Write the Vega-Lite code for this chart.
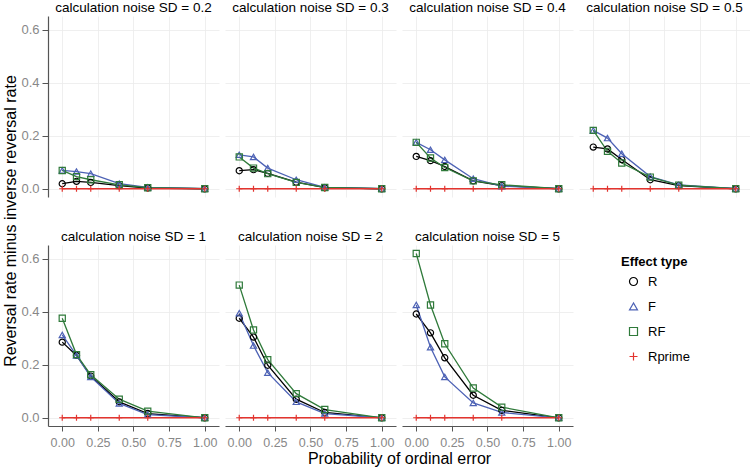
{
  "$schema": "https://vega.github.io/schema/vega-lite/v6.json",
  "padding": {"left": 2, "top": 0, "right": 2, "bottom": 0},
  "bounds": "flush",
  "columns": 4,
  "spacing": {"row": 48, "column": 6},
  "config": {
    "font": "Liberation Sans",
    "view": {"stroke": null},
    "title": {"fontSize": 13.5, "fontWeight": "normal", "color": "#000000", "offset": 2, "anchor": "middle"},
    "axis": {"gridColor": "#ebebeb", "gridWidth": 0.8, "domainColor": "#555555", "domainWidth": 1.2, "tickColor": "#555555", "labelColor": "#888888"},
    "axisX": {"tickSize": 5, "labelPadding": 5, "labelFontSize": 12.5},
    "axisY": {"tickSize": 6, "labelPadding": 3, "labelFontSize": 13},
    "legend": {"orient": "none", "legendX": 573, "legendY": 240, "titleFontSize": 13, "titleFontWeight": "bold", "labelFontSize": 13, "titleColor": "#000000", "labelColor": "#000000", "rowPadding": 11, "symbolSize": 64, "symbolStrokeWidth": 1.2, "symbolOffset": 6, "labelOffset": 8, "titlePadding": 6}
  },
  "data": {"values": [
    {"sd":0.2,"t":"R","p":0,"v":0.019},{"sd":0.2,"t":"R","p":0.1,"v":0.028},{"sd":0.2,"t":"R","p":0.2,"v":0.024},{"sd":0.2,"t":"R","p":0.4,"v":0.012},{"sd":0.2,"t":"R","p":0.6,"v":0.003},{"sd":0.2,"t":"R","p":1,"v":0},
    {"sd":0.2,"t":"F","p":0,"v":0.069},{"sd":0.2,"t":"F","p":0.1,"v":0.065},{"sd":0.2,"t":"F","p":0.2,"v":0.057},{"sd":0.2,"t":"F","p":0.4,"v":0.019},{"sd":0.2,"t":"F","p":0.6,"v":0.005},{"sd":0.2,"t":"F","p":1,"v":0},
    {"sd":0.2,"t":"RF","p":0,"v":0.069},{"sd":0.2,"t":"RF","p":0.1,"v":0.046},{"sd":0.2,"t":"RF","p":0.2,"v":0.034},{"sd":0.2,"t":"RF","p":0.4,"v":0.015},{"sd":0.2,"t":"RF","p":0.6,"v":0.004},{"sd":0.2,"t":"RF","p":1,"v":0},
    {"sd":0.2,"t":"Rprime","p":0,"v":0},{"sd":0.2,"t":"Rprime","p":0.1,"v":0},{"sd":0.2,"t":"Rprime","p":0.2,"v":0},{"sd":0.2,"t":"Rprime","p":0.4,"v":0},{"sd":0.2,"t":"Rprime","p":0.6,"v":0},{"sd":0.2,"t":"Rprime","p":1,"v":0},
    {"sd":0.3,"t":"R","p":0,"v":0.068},{"sd":0.3,"t":"R","p":0.1,"v":0.072},{"sd":0.3,"t":"R","p":0.2,"v":0.058},{"sd":0.3,"t":"R","p":0.4,"v":0.025},{"sd":0.3,"t":"R","p":0.6,"v":0.004},{"sd":0.3,"t":"R","p":1,"v":0},
    {"sd":0.3,"t":"F","p":0,"v":0.128},{"sd":0.3,"t":"F","p":0.1,"v":0.12},{"sd":0.3,"t":"F","p":0.2,"v":0.078},{"sd":0.3,"t":"F","p":0.4,"v":0.034},{"sd":0.3,"t":"F","p":0.6,"v":0.005},{"sd":0.3,"t":"F","p":1,"v":0},
    {"sd":0.3,"t":"RF","p":0,"v":0.12},{"sd":0.3,"t":"RF","p":0.1,"v":0.078},{"sd":0.3,"t":"RF","p":0.2,"v":0.057},{"sd":0.3,"t":"RF","p":0.4,"v":0.024},{"sd":0.3,"t":"RF","p":0.6,"v":0.005},{"sd":0.3,"t":"RF","p":1,"v":0},
    {"sd":0.3,"t":"Rprime","p":0,"v":0},{"sd":0.3,"t":"Rprime","p":0.1,"v":0},{"sd":0.3,"t":"Rprime","p":0.2,"v":0},{"sd":0.3,"t":"Rprime","p":0.4,"v":0},{"sd":0.3,"t":"Rprime","p":0.6,"v":0},{"sd":0.3,"t":"Rprime","p":1,"v":0},
    {"sd":0.4,"t":"R","p":0,"v":0.122},{"sd":0.4,"t":"R","p":0.1,"v":0.106},{"sd":0.4,"t":"R","p":0.2,"v":0.084},{"sd":0.4,"t":"R","p":0.4,"v":0.03},{"sd":0.4,"t":"R","p":0.6,"v":0.012},{"sd":0.4,"t":"R","p":1,"v":0},
    {"sd":0.4,"t":"F","p":0,"v":0.175},{"sd":0.4,"t":"F","p":0.1,"v":0.147},{"sd":0.4,"t":"F","p":0.2,"v":0.109},{"sd":0.4,"t":"F","p":0.4,"v":0.038},{"sd":0.4,"t":"F","p":0.6,"v":0.01},{"sd":0.4,"t":"F","p":1,"v":0},
    {"sd":0.4,"t":"RF","p":0,"v":0.175},{"sd":0.4,"t":"RF","p":0.1,"v":0.116},{"sd":0.4,"t":"RF","p":0.2,"v":0.08},{"sd":0.4,"t":"RF","p":0.4,"v":0.03},{"sd":0.4,"t":"RF","p":0.6,"v":0.015},{"sd":0.4,"t":"RF","p":1,"v":0},
    {"sd":0.4,"t":"Rprime","p":0,"v":0},{"sd":0.4,"t":"Rprime","p":0.1,"v":0},{"sd":0.4,"t":"Rprime","p":0.2,"v":0},{"sd":0.4,"t":"Rprime","p":0.4,"v":0},{"sd":0.4,"t":"Rprime","p":0.6,"v":0},{"sd":0.4,"t":"Rprime","p":1,"v":0},
    {"sd":0.5,"t":"R","p":0,"v":0.157},{"sd":0.5,"t":"R","p":0.1,"v":0.15},{"sd":0.5,"t":"R","p":0.2,"v":0.11},{"sd":0.5,"t":"R","p":0.4,"v":0.034},{"sd":0.5,"t":"R","p":0.6,"v":0.012},{"sd":0.5,"t":"R","p":1,"v":0},
    {"sd":0.5,"t":"F","p":0,"v":0.22},{"sd":0.5,"t":"F","p":0.1,"v":0.191},{"sd":0.5,"t":"F","p":0.2,"v":0.132},{"sd":0.5,"t":"F","p":0.4,"v":0.046},{"sd":0.5,"t":"F","p":0.6,"v":0.015},{"sd":0.5,"t":"F","p":1,"v":0},
    {"sd":0.5,"t":"RF","p":0,"v":0.22},{"sd":0.5,"t":"RF","p":0.1,"v":0.141},{"sd":0.5,"t":"RF","p":0.2,"v":0.097},{"sd":0.5,"t":"RF","p":0.4,"v":0.044},{"sd":0.5,"t":"RF","p":0.6,"v":0.014},{"sd":0.5,"t":"RF","p":1,"v":0},
    {"sd":0.5,"t":"Rprime","p":0,"v":0},{"sd":0.5,"t":"Rprime","p":0.1,"v":0},{"sd":0.5,"t":"Rprime","p":0.2,"v":0},{"sd":0.5,"t":"Rprime","p":0.4,"v":0},{"sd":0.5,"t":"Rprime","p":0.6,"v":0},{"sd":0.5,"t":"Rprime","p":1,"v":0},
    {"sd":1,"t":"R","p":0,"v":0.285},{"sd":1,"t":"R","p":0.1,"v":0.235},{"sd":1,"t":"R","p":0.2,"v":0.157},{"sd":1,"t":"R","p":0.4,"v":0.06},{"sd":1,"t":"R","p":0.6,"v":0.016},{"sd":1,"t":"R","p":1,"v":0},
    {"sd":1,"t":"F","p":0,"v":0.312},{"sd":1,"t":"F","p":0.1,"v":0.235},{"sd":1,"t":"F","p":0.2,"v":0.154},{"sd":1,"t":"F","p":0.4,"v":0.054},{"sd":1,"t":"F","p":0.6,"v":0.012},{"sd":1,"t":"F","p":1,"v":0},
    {"sd":1,"t":"RF","p":0,"v":0.375},{"sd":1,"t":"RF","p":0.1,"v":0.238},{"sd":1,"t":"RF","p":0.2,"v":0.162},{"sd":1,"t":"RF","p":0.4,"v":0.07},{"sd":1,"t":"RF","p":0.6,"v":0.025},{"sd":1,"t":"RF","p":1,"v":0},
    {"sd":1,"t":"Rprime","p":0,"v":0},{"sd":1,"t":"Rprime","p":0.1,"v":0},{"sd":1,"t":"Rprime","p":0.2,"v":0},{"sd":1,"t":"Rprime","p":0.4,"v":0},{"sd":1,"t":"Rprime","p":0.6,"v":0},{"sd":1,"t":"Rprime","p":1,"v":0},
    {"sd":2,"t":"R","p":0,"v":0.375},{"sd":2,"t":"R","p":0.1,"v":0.304},{"sd":2,"t":"R","p":0.2,"v":0.198},{"sd":2,"t":"R","p":0.4,"v":0.07},{"sd":2,"t":"R","p":0.6,"v":0.02},{"sd":2,"t":"R","p":1,"v":0},
    {"sd":2,"t":"F","p":0,"v":0.394},{"sd":2,"t":"F","p":0.1,"v":0.272},{"sd":2,"t":"F","p":0.2,"v":0.17},{"sd":2,"t":"F","p":0.4,"v":0.06},{"sd":2,"t":"F","p":0.6,"v":0.016},{"sd":2,"t":"F","p":1,"v":0},
    {"sd":2,"t":"RF","p":0,"v":0.5},{"sd":2,"t":"RF","p":0.1,"v":0.331},{"sd":2,"t":"RF","p":0.2,"v":0.219},{"sd":2,"t":"RF","p":0.4,"v":0.091},{"sd":2,"t":"RF","p":0.6,"v":0.031},{"sd":2,"t":"RF","p":1,"v":0},
    {"sd":2,"t":"Rprime","p":0,"v":0},{"sd":2,"t":"Rprime","p":0.1,"v":0},{"sd":2,"t":"Rprime","p":0.2,"v":0},{"sd":2,"t":"Rprime","p":0.4,"v":0},{"sd":2,"t":"Rprime","p":0.6,"v":0},{"sd":2,"t":"Rprime","p":1,"v":0},
    {"sd":5,"t":"R","p":0,"v":0.391},{"sd":5,"t":"R","p":0.1,"v":0.32},{"sd":5,"t":"R","p":0.2,"v":0.226},{"sd":5,"t":"R","p":0.4,"v":0.085},{"sd":5,"t":"R","p":0.6,"v":0.028},{"sd":5,"t":"R","p":1,"v":0},
    {"sd":5,"t":"F","p":0,"v":0.425},{"sd":5,"t":"F","p":0.1,"v":0.266},{"sd":5,"t":"F","p":0.2,"v":0.154},{"sd":5,"t":"F","p":0.4,"v":0.056},{"sd":5,"t":"F","p":0.6,"v":0.02},{"sd":5,"t":"F","p":1,"v":0},
    {"sd":5,"t":"RF","p":0,"v":0.619},{"sd":5,"t":"RF","p":0.1,"v":0.425},{"sd":5,"t":"RF","p":0.2,"v":0.279},{"sd":5,"t":"RF","p":0.4,"v":0.112},{"sd":5,"t":"RF","p":0.6,"v":0.04},{"sd":5,"t":"RF","p":1,"v":0},
    {"sd":5,"t":"Rprime","p":0,"v":0},{"sd":5,"t":"Rprime","p":0.1,"v":0},{"sd":5,"t":"Rprime","p":0.2,"v":0},{"sd":5,"t":"Rprime","p":0.4,"v":0},{"sd":5,"t":"Rprime","p":0.6,"v":0},{"sd":5,"t":"Rprime","p":1,"v":0}
  ]},
  "concat": [
    {
      "title": "calculation noise SD = 0.2",
      "transform": [{"filter": "datum.sd == 0.2"}],
      "width": 171, "height": 181,
      "encoding": {
        "x": {"field": "p", "type": "quantitative", "scale": {"domain": [-0.1, 1.1], "nice": false, "zero": false}, "axis": {"labels": false, "ticks": false, "domain": false, "title": null, "values": [0, 0.25, 0.5, 0.75, 1]}},
        "y": {"field": "v", "type": "quantitative", "scale": {"domain": [-0.031, 0.651], "nice": false, "zero": false}, "axis": {"values": [0, 0.2, 0.4, 0.6], "format": ".1f", "title": "Reversal rate minus inverse reversal rate", "titleFontSize": 16, "titleFontWeight": "normal", "titleColor": "#000000", "titleY": 204.5, "titlePadding": 2}},
        "color": {"field": "t", "type": "nominal", "title": "Effect type", "scale": {"domain": ["R", "F", "RF", "Rprime"], "range": ["#000000", "#4D62B5", "#2F7A3A", "#E3342F"]}, "legend": {"title": "Effect type"}}
      },
      "layer": [
        {"mark": {"type": "line", "strokeWidth": 1.3}},
        {"mark": {"type": "point", "filled": false, "strokeWidth": 1.2, "opacity": 1, "size": 38},
         "encoding": {"shape": {"field": "t", "type": "nominal", "scale": {"domain": ["R", "F", "RF", "Rprime"], "range": ["circle", "triangle-up", "square", "M-1,0L1,0M0,-1L0,1"]}, "legend": null}}}
      ]
    },
    {
      "title": "calculation noise SD = 0.3",
      "transform": [{"filter": "datum.sd == 0.3"}],
      "width": 171, "height": 181,
      "encoding": {
        "x": {"field": "p", "type": "quantitative", "scale": {"domain": [-0.1, 1.1], "nice": false, "zero": false}, "axis": {"labels": false, "ticks": false, "domain": false, "title": null, "values": [0, 0.25, 0.5, 0.75, 1]}},
        "y": {"field": "v", "type": "quantitative", "scale": {"domain": [-0.031, 0.651], "nice": false, "zero": false}, "axis": {"labels": false, "ticks": false, "domain": false, "title": null, "values": [0, 0.2, 0.4, 0.6]}},
        "color": {"field": "t", "type": "nominal", "title": "Effect type", "scale": {"domain": ["R", "F", "RF", "Rprime"], "range": ["#000000", "#4D62B5", "#2F7A3A", "#E3342F"]}}
      },
      "layer": [
        {"mark": {"type": "line", "strokeWidth": 1.3}},
        {"mark": {"type": "point", "filled": false, "strokeWidth": 1.2, "opacity": 1, "size": 38},
         "encoding": {"shape": {"field": "t", "type": "nominal", "scale": {"domain": ["R", "F", "RF", "Rprime"], "range": ["circle", "triangle-up", "square", "M-1,0L1,0M0,-1L0,1"]}, "legend": null}}}
      ]
    },
    {
      "title": "calculation noise SD = 0.4",
      "transform": [{"filter": "datum.sd == 0.4"}],
      "width": 171, "height": 181,
      "encoding": {
        "x": {"field": "p", "type": "quantitative", "scale": {"domain": [-0.1, 1.1], "nice": false, "zero": false}, "axis": {"labels": false, "ticks": false, "domain": false, "title": null, "values": [0, 0.25, 0.5, 0.75, 1]}},
        "y": {"field": "v", "type": "quantitative", "scale": {"domain": [-0.031, 0.651], "nice": false, "zero": false}, "axis": {"labels": false, "ticks": false, "domain": false, "title": null, "values": [0, 0.2, 0.4, 0.6]}},
        "color": {"field": "t", "type": "nominal", "title": "Effect type", "scale": {"domain": ["R", "F", "RF", "Rprime"], "range": ["#000000", "#4D62B5", "#2F7A3A", "#E3342F"]}}
      },
      "layer": [
        {"mark": {"type": "line", "strokeWidth": 1.3}},
        {"mark": {"type": "point", "filled": false, "strokeWidth": 1.2, "opacity": 1, "size": 38},
         "encoding": {"shape": {"field": "t", "type": "nominal", "scale": {"domain": ["R", "F", "RF", "Rprime"], "range": ["circle", "triangle-up", "square", "M-1,0L1,0M0,-1L0,1"]}, "legend": null}}}
      ]
    },
    {
      "title": "calculation noise SD = 0.5",
      "transform": [{"filter": "datum.sd == 0.5"}],
      "width": 171, "height": 181,
      "encoding": {
        "x": {"field": "p", "type": "quantitative", "scale": {"domain": [-0.1, 1.1], "nice": false, "zero": false}, "axis": {"labels": false, "ticks": false, "domain": false, "title": null, "values": [0, 0.25, 0.5, 0.75, 1]}},
        "y": {"field": "v", "type": "quantitative", "scale": {"domain": [-0.031, 0.651], "nice": false, "zero": false}, "axis": {"labels": false, "ticks": false, "domain": false, "title": null, "values": [0, 0.2, 0.4, 0.6]}},
        "color": {"field": "t", "type": "nominal", "title": "Effect type", "scale": {"domain": ["R", "F", "RF", "Rprime"], "range": ["#000000", "#4D62B5", "#2F7A3A", "#E3342F"]}}
      },
      "layer": [
        {"mark": {"type": "line", "strokeWidth": 1.3}},
        {"mark": {"type": "point", "filled": false, "strokeWidth": 1.2, "opacity": 1, "size": 38},
         "encoding": {"shape": {"field": "t", "type": "nominal", "scale": {"domain": ["R", "F", "RF", "Rprime"], "range": ["circle", "triangle-up", "square", "M-1,0L1,0M0,-1L0,1"]}, "legend": null}}}
      ]
    },
    {
      "title": "calculation noise SD = 1",
      "transform": [{"filter": "datum.sd == 1"}],
      "width": 171, "height": 181,
      "encoding": {
        "x": {"field": "p", "type": "quantitative", "scale": {"domain": [-0.1, 1.1], "nice": false, "zero": false}, "axis": {"values": [0, 0.25, 0.5, 0.75, 1], "format": ".2f", "title": null}},
        "y": {"field": "v", "type": "quantitative", "scale": {"domain": [-0.031, 0.651], "nice": false, "zero": false}, "axis": {"values": [0, 0.2, 0.4, 0.6], "format": ".1f", "title": null}},
        "color": {"field": "t", "type": "nominal", "title": "Effect type", "scale": {"domain": ["R", "F", "RF", "Rprime"], "range": ["#000000", "#4D62B5", "#2F7A3A", "#E3342F"]}}
      },
      "layer": [
        {"mark": {"type": "line", "strokeWidth": 1.3}},
        {"mark": {"type": "point", "filled": false, "strokeWidth": 1.2, "opacity": 1, "size": 38},
         "encoding": {"shape": {"field": "t", "type": "nominal", "scale": {"domain": ["R", "F", "RF", "Rprime"], "range": ["circle", "triangle-up", "square", "M-1,0L1,0M0,-1L0,1"]}, "legend": null}}}
      ]
    },
    {
      "title": "calculation noise SD = 2",
      "transform": [{"filter": "datum.sd == 2"}],
      "width": 171, "height": 181,
      "encoding": {
        "x": {"field": "p", "type": "quantitative", "scale": {"domain": [-0.1, 1.1], "nice": false, "zero": false}, "axis": {"values": [0, 0.25, 0.5, 0.75, 1], "format": ".2f", "title": "Probability of ordinal error", "titleFontSize": 16, "titleFontWeight": "normal", "titleColor": "#000000", "titleX": 174, "titlePadding": 2}},
        "y": {"field": "v", "type": "quantitative", "scale": {"domain": [-0.031, 0.651], "nice": false, "zero": false}, "axis": {"labels": false, "ticks": false, "domain": false, "title": null, "values": [0, 0.2, 0.4, 0.6]}},
        "color": {"field": "t", "type": "nominal", "title": "Effect type", "scale": {"domain": ["R", "F", "RF", "Rprime"], "range": ["#000000", "#4D62B5", "#2F7A3A", "#E3342F"]}}
      },
      "layer": [
        {"mark": {"type": "line", "strokeWidth": 1.3}},
        {"mark": {"type": "point", "filled": false, "strokeWidth": 1.2, "opacity": 1, "size": 38},
         "encoding": {"shape": {"field": "t", "type": "nominal", "scale": {"domain": ["R", "F", "RF", "Rprime"], "range": ["circle", "triangle-up", "square", "M-1,0L1,0M0,-1L0,1"]}, "legend": null}}}
      ]
    },
    {
      "title": "calculation noise SD = 5",
      "transform": [{"filter": "datum.sd == 5"}],
      "width": 171, "height": 181,
      "encoding": {
        "x": {"field": "p", "type": "quantitative", "scale": {"domain": [-0.1, 1.1], "nice": false, "zero": false}, "axis": {"values": [0, 0.25, 0.5, 0.75, 1], "format": ".2f", "title": null}},
        "y": {"field": "v", "type": "quantitative", "scale": {"domain": [-0.031, 0.651], "nice": false, "zero": false}, "axis": {"labels": false, "ticks": false, "domain": false, "title": null, "values": [0, 0.2, 0.4, 0.6]}},
        "color": {"field": "t", "type": "nominal", "title": "Effect type", "scale": {"domain": ["R", "F", "RF", "Rprime"], "range": ["#000000", "#4D62B5", "#2F7A3A", "#E3342F"]}}
      },
      "layer": [
        {"mark": {"type": "line", "strokeWidth": 1.3}},
        {"mark": {"type": "point", "filled": false, "strokeWidth": 1.2, "opacity": 1, "size": 38},
         "encoding": {"shape": {"field": "t", "type": "nominal", "scale": {"domain": ["R", "F", "RF", "Rprime"], "range": ["circle", "triangle-up", "square", "M-1,0L1,0M0,-1L0,1"]}, "legend": null}}}
      ]
    }
  ]
}
